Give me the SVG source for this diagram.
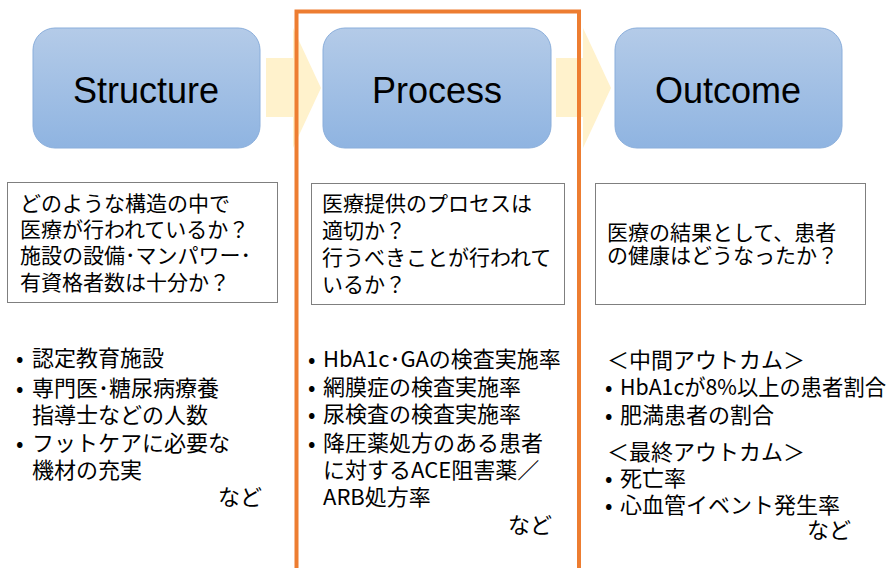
<svg xmlns="http://www.w3.org/2000/svg" width="892" height="568" viewBox="0 0 892 568">
<defs>
<linearGradient id="g" x1="0" y1="0" x2="0" y2="1">
<stop offset="0" stop-color="#b4cbe8"/>
<stop offset="1" stop-color="#8fb4e1"/>
</linearGradient>
<style>
.node{fill:url(#g);stroke:#8aaedb;stroke-width:1}
.title{font-family:"Liberation Sans",Arial,sans-serif;font-size:36px;fill:#000;text-anchor:middle}
.box{fill:#fff;stroke:#7f7f7f;stroke-width:1}
.q{font-family:"Noto Sans CJK JP","Liberation Sans",sans-serif;font-size:21px;fill:#000}
.li{font-family:"Noto Sans CJK JP","Liberation Sans",sans-serif;font-size:22px;fill:#000}
.arrow{fill:#fff2cc}
</style>
</defs>
<rect width="892" height="568" fill="#fff"/>
<g id="connectors">
<path class="arrow" d="M266,58 H293 V28 L321,88 L293,148 V117 H266 Z"/>
<path class="arrow" d="M556,58 H583 V28 L611,88 L583,148 V117 H556 Z"/>
</g>
<g id="structure">
<rect class="node" x="33" y="28" width="227" height="120" rx="22"/>
<text class="title" x="146" y="103">Structure</text>
</g>
<g id="process">
<rect class="node" x="323" y="28" width="228" height="120" rx="22"/>
<text class="title" x="437" y="103">Process</text>
</g>
<g id="outcome">
<rect class="node" x="615" y="28" width="227" height="120" rx="22"/>
<text class="title" x="728" y="103">Outcome</text>
</g>
<g id="structure-question">
<rect class="box" x="7.5" y="182.5" width="270" height="120"/>
<text class="q" x="20" y="211">どのような構造の中で</text>
<text class="q" x="20" y="237">医療が行われているか？</text>
<text class="q" x="20" y="263">施設の設備･マンパワー･</text>
<text class="q" x="20" y="290">有資格者数は十分か？</text>
</g>
<g id="process-question">
<rect class="box" x="311.5" y="183.5" width="253" height="121"/>
<text class="q" x="322" y="211">医療提供のプロセスは</text>
<text class="q" x="322" y="238">適切か？</text>
<text class="q" x="322" y="265">行うべきことが行われて</text>
<text class="q" x="322" y="292">いるか？</text>
</g>
<g id="outcome-question">
<rect class="box" x="595.5" y="183.5" width="270" height="121"/>
<text class="q" x="607" y="240">医療の結果として、患者</text>
<text class="q" x="607" y="263">の健康はどうなったか？</text>
</g>
<g id="structure-list">
<text class="li" x="16" y="366">•</text><text class="li" x="32" y="366">認定教育施設</text>
<text class="li" x="16" y="396">•</text><text class="li" x="32" y="396">専門医･糖尿病療養</text>
<text class="li" x="32" y="423">指導士などの人数</text>
<text class="li" x="16" y="451">•</text><text class="li" x="32" y="451">フットケアに必要な</text>
<text class="li" x="32" y="478">機材の充実</text>
<text class="li" x="218" y="505">など</text>
</g>
<g id="process-list">
<text class="li" x="308" y="367">•</text><text class="li" x="323" y="367">HbA1c･GAの検査実施率</text>
<text class="li" x="308" y="395">•</text><text class="li" x="323" y="395">網膜症の検査実施率</text>
<text class="li" x="308" y="422">•</text><text class="li" x="323" y="422">尿検査の検査実施率</text>
<text class="li" x="308" y="451">•</text><text class="li" x="323" y="451">降圧薬処方のある患者</text>
<text class="li" x="323" y="478">に対するACE阻害薬／</text>
<text class="li" x="323" y="505">ARB処方率</text>
<text class="li" x="508" y="533">など</text>
</g>
<g id="outcome-list">
<text class="li" x="607" y="368">＜中間アウトカム＞</text>
<text class="li" x="605" y="395">•</text><text class="li" x="620" y="395" textLength="266" lengthAdjust="spacingAndGlyphs">HbA1cが8%以上の患者割合</text>
<text class="li" x="605" y="423">•</text><text class="li" x="620" y="423">肥満患者の割合</text>
<text class="li" x="607" y="460">＜最終アウトカム＞</text>
<text class="li" x="605" y="486">•</text><text class="li" x="620" y="486">死亡率</text>
<text class="li" x="605" y="513">•</text><text class="li" x="620" y="513">心血管イベント発生率</text>
<text class="li" x="807" y="538">など</text>
</g>
<g id="highlight">
<rect x="296.5" y="11.5" width="282.5" height="580" fill="none" stroke="#ed7d31" stroke-width="4"/>
</g>
</svg>
